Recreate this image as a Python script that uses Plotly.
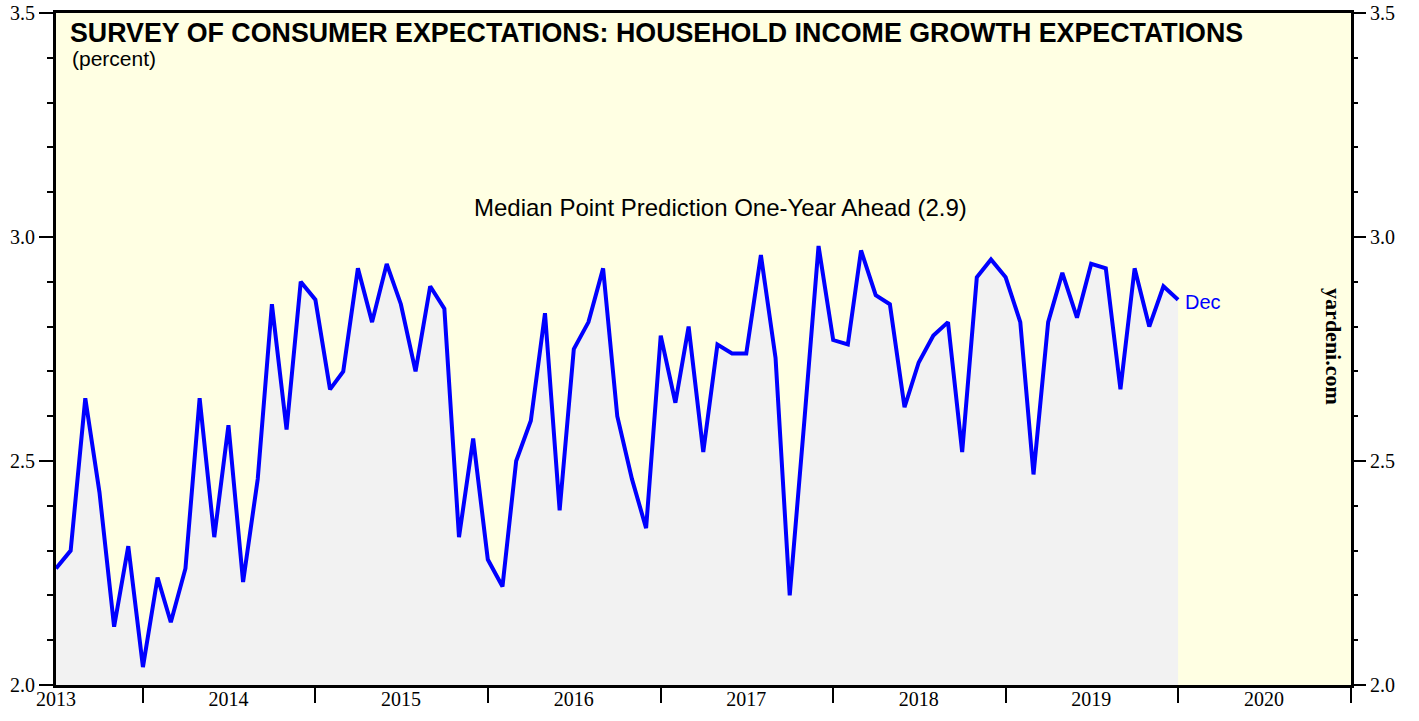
import pandas as pd
import plotly.graph_objects as go

# Monthly survey months (Jun 2013 - Dec 2019)
months = pd.period_range("2013-06", "2019-12", freq="M")
values = [
    2.26, 2.30, 2.64, 2.43, 2.13, 2.31, 2.04,            # 2013 Jun-Dec
    2.24, 2.14, 2.26, 2.64, 2.33, 2.58, 2.23, 2.46, 2.85, 2.57, 2.90, 2.86,  # 2014
    2.66, 2.70, 2.93, 2.81, 2.94, 2.85, 2.70, 2.89, 2.84, 2.33, 2.55, 2.28,  # 2015
    2.22, 2.50, 2.59, 2.83, 2.39, 2.75, 2.81, 2.93, 2.60, 2.46, 2.35, 2.78,  # 2016
    2.63, 2.80, 2.52, 2.76, 2.74, 2.74, 2.96, 2.73, 2.20, 2.59, 2.98, 2.77,  # 2017
    2.76, 2.97, 2.87, 2.85, 2.62, 2.72, 2.78, 2.81, 2.52, 2.91, 2.95, 2.91,  # 2018
    2.81, 2.47, 2.81, 2.92, 2.82, 2.94, 2.93, 2.66, 2.93, 2.80, 2.89, 2.86,  # 2019
]
year_labels = ["2013", "2014", "2015", "2016", "2017", "2018", "2019", "2020"]
y_ticks = [2.0, 2.5, 3.0, 3.5]

title_text = "SURVEY OF CONSUMER EXPECTATIONS: HOUSEHOLD INCOME GROWTH EXPECTATIONS"
subtitle_text = "(percent)"
series_label = "Median Point Prediction One-Year Ahead (2.9)"
last_label = "Dec"
source_text = "yardeni.com"

# monthly readings plotted at month end
x_dates = [p.end_time.normalize() + pd.Timedelta(days=1) for p in months]
year_starts = [pd.Timestamp(f"{int(y)+1}-01-01") for y in year_labels]
mid_years = [pd.Timestamp(f"{y}-07-01") for y in year_labels]
x_range = [pd.Timestamp("2013-07-01"), pd.Timestamp("2021-01-01")]
y_range = [2.0, 3.5]

BLUE = "#0000FF"
SERIF = "Liberation Serif, Times New Roman, serif"
SANS = "Liberation Sans, Arial, sans-serif"

fig = go.Figure()
fig.add_trace(go.Scatter(
    x=x_dates, y=values, mode="lines",
    line=dict(color=BLUE, width=4),
    fill="tozeroy", fillcolor="#F2F2F2",
    hoverinfo="x+y", showlegend=False,
))
# invisible helper trace on the secondary axes
fig.add_trace(go.Scatter(
    x=[x_dates[0]], y=[values[0]], xaxis="x2", yaxis="y2",
    mode="markers", marker=dict(opacity=0), showlegend=False, hoverinfo="skip",
))

tick_font = dict(family=SERIF, size=20, color="black")

fig.update_layout(
    width=1419, height=721,
    margin=dict(l=56, r=68, t=13, b=36),
    paper_bgcolor="white",
    plot_bgcolor="#FFFFE3",
    xaxis=dict(
        type="date", range=x_range, automargin=False,
        tickvals=year_starts, ticktext=[""] * len(year_starts),
        ticks="outside", ticklen=15, tickwidth=2, tickcolor="black",
        showgrid=False, zeroline=False,
        showline=True, linewidth=3, linecolor="black", mirror=True,
    ),
    xaxis2=dict(
        type="date", range=x_range, overlaying="x", side="bottom", automargin=False,
        tickvals=mid_years, ticktext=year_labels, ticklabeloverflow="allow",
        ticks="", showgrid=False, zeroline=False, showline=False,
        tickfont=tick_font,
    ),
    yaxis=dict(
        range=y_range, tickvals=y_ticks, tickformat=".1f", automargin=False,
        ticklabeloverflow="allow",
        ticks="outside", ticklen=14, tickwidth=1.5, tickcolor="black",
        minor=dict(dtick=0.1, ticks="outside", ticklen=6, tickwidth=1.5, tickcolor="black"),
        showgrid=False, zeroline=False,
        showline=True, linewidth=3, linecolor="black", mirror=True,
        tickfont=tick_font,
    ),
    yaxis2=dict(
        range=y_range, overlaying="y", side="right", automargin=False,
        tickvals=y_ticks, tickformat=".1f", ticklabeloverflow="allow",
        ticks="outside", ticklen=14, tickwidth=1.5, tickcolor="black",
        minor=dict(dtick=0.1, ticks="outside", ticklen=6, tickwidth=1.5, tickcolor="black"),
        showgrid=False, zeroline=False, showline=False,
        tickfont=tick_font,
    ),
    annotations=[
        dict(text=f"<b>{title_text}</b>", xref="paper", yref="paper",
             x=0.0095, y=0.995, xanchor="left", yanchor="top", showarrow=False,
             font=dict(family=SANS, size=26.8, color="black")),
        dict(text=subtitle_text, xref="paper", yref="paper",
             x=0.0105, y=0.952, xanchor="left", yanchor="top", showarrow=False,
             font=dict(family=SANS, size=21, color="black")),
        dict(text=series_label, xref="paper", yref="paper",
             x=0.5135, y=0.711, xanchor="center", yanchor="middle", showarrow=False,
             font=dict(family=SANS, size=24, color="black")),
        dict(text=last_label, x=x_dates[-1], y=values[-1], xref="x", yref="y",
             xanchor="left", yanchor="middle", xshift=5, yshift=-2, showarrow=False,
             font=dict(family=SANS, size=20, color=BLUE)),
        dict(text=f"<b>{source_text}</b>", xref="paper", yref="paper",
             x=0.986, y=0.503, xanchor="center", yanchor="middle", showarrow=False,
             textangle=90, font=dict(family=SERIF, size=22, color="black")),
    ],
)

fig.write_html("out.html", config={"displayModeBar": False},
               post_script="document.body.style.margin='0';")
